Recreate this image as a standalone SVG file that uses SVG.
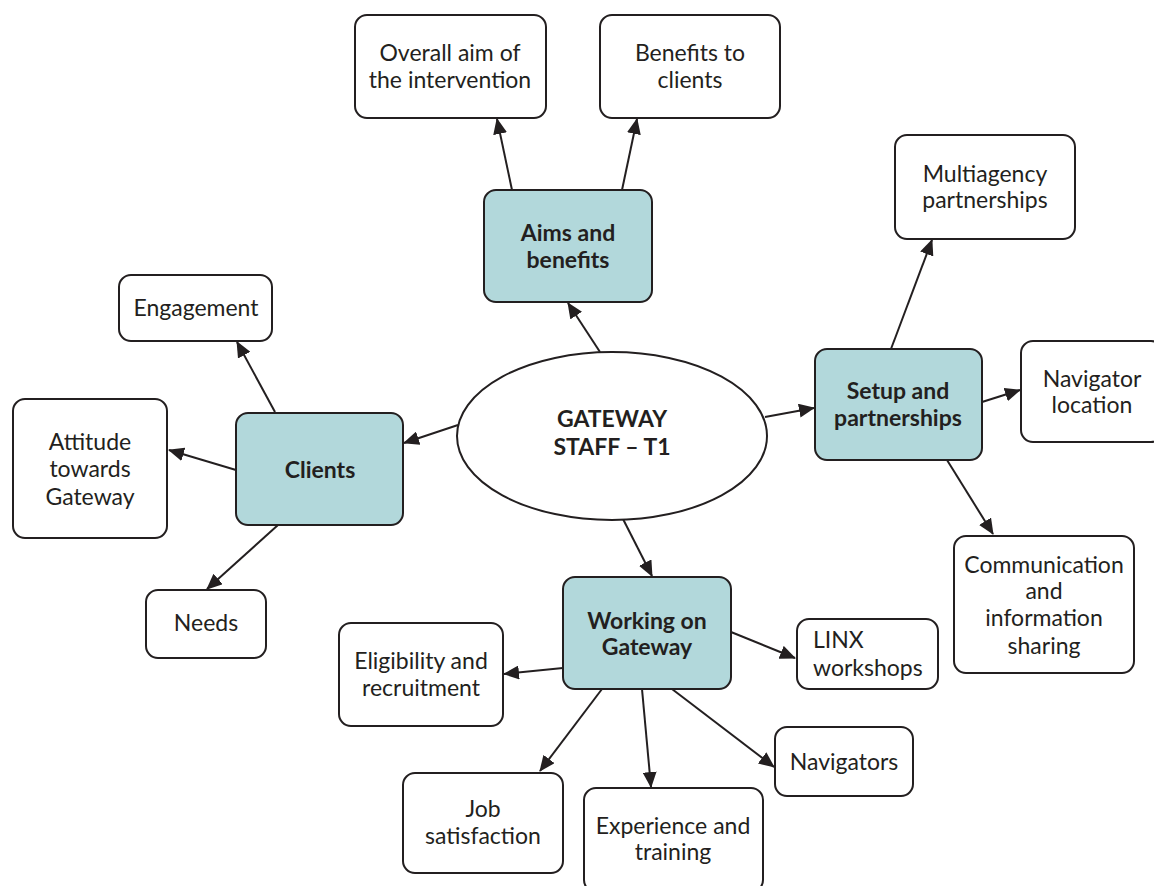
<svg xmlns="http://www.w3.org/2000/svg" width="1154" height="886" viewBox="0 0 1154 886">
  <style>
    .box { fill: #ffffff; stroke: #231f20; stroke-width: 2; }
    .hub { fill: #b2d8db; stroke: #231f20; stroke-width: 2; }
    .core { fill: #ffffff; stroke: #231f20; stroke-width: 2; }
    text { font-family: Lato, "Open Sans", "Liberation Sans", sans-serif; font-size: 23px; fill: #231f20; text-anchor: middle; }
    .b { font-weight: 700; }
    .l { text-anchor: start; }
    .edge { stroke: #231f20; stroke-width: 2; fill: none; marker-end: url(#arrow); }
  </style>
  <defs>
    <marker id="arrow" markerUnits="userSpaceOnUse" markerWidth="16" markerHeight="14" refX="15" refY="7" orient="auto">
      <path d="M0,0 L16,7 L0,14 z" fill="#231f20"/>
    </marker>
  </defs>
  <rect width="1154" height="886" fill="#ffffff"/>

  <g id="connectors">
    <line class="edge" x1="512" y1="190" x2="497" y2="119"/>
    <line class="edge" x1="622" y1="190" x2="637" y2="119"/>
    <line class="edge" x1="600" y1="352" x2="568" y2="303"/>
    <line class="edge" x1="458" y1="425" x2="404" y2="443"/>
    <line class="edge" x1="765" y1="417" x2="814" y2="408"/>
    <line class="edge" x1="623" y1="519" x2="652" y2="576"/>
    <line class="edge" x1="275" y1="412" x2="237" y2="342"/>
    <line class="edge" x1="236" y1="470" x2="169" y2="450"/>
    <line class="edge" x1="278" y1="525" x2="207" y2="589"/>
    <line class="edge" x1="891" y1="349" x2="932" y2="240"/>
    <line class="edge" x1="982" y1="402" x2="1020" y2="390"/>
    <line class="edge" x1="947" y1="460" x2="993" y2="534"/>
    <line class="edge" x1="563" y1="668" x2="504" y2="674"/>
    <line class="edge" x1="731" y1="632" x2="795" y2="658"/>
    <line class="edge" x1="672" y1="689" x2="774" y2="767"/>
    <line class="edge" x1="602" y1="689" x2="540" y2="771"/>
    <line class="edge" x1="642" y1="689" x2="651" y2="787"/>
  </g>

  <g id="gateway-staff">
    <ellipse class="core" cx="612" cy="436" rx="155" ry="84"/>
    <text class="b" x="612" y="427">GATEWAY</text>
    <text class="b" x="612" y="455">STAFF – T1</text>
  </g>

  <g id="aims-and-benefits">
    <rect class="hub" x="484" y="190" width="168" height="112" rx="12"/>
    <text class="b" x="568" y="241">Aims and</text>
    <text class="b" x="568" y="268">benefits</text>
  </g>
  <g id="overall-aim">
    <rect class="box" x="355" y="15" width="191" height="103" rx="12"/>
    <text x="450" y="61">Overall aim of</text>
    <text x="450" y="88">the intervention</text>
  </g>
  <g id="benefits-to-clients">
    <rect class="box" x="600" y="15" width="180" height="103" rx="12"/>
    <text x="690" y="61">Benefits to</text>
    <text x="690" y="88">clients</text>
  </g>

  <g id="clients">
    <rect class="hub" x="236" y="413" width="167" height="112" rx="12"/>
    <text class="b" x="320" y="478">Clients</text>
  </g>
  <g id="engagement">
    <rect class="box" x="119" y="275" width="153" height="66" rx="12"/>
    <text x="196" y="316">Engagement</text>
  </g>
  <g id="attitude">
    <rect class="box" x="13" y="399" width="154" height="139" rx="12"/>
    <text x="90" y="450">Attitude</text>
    <text x="90" y="477">towards</text>
    <text x="90" y="505">Gateway</text>
  </g>
  <g id="needs">
    <rect class="box" x="146" y="590" width="120" height="68" rx="12"/>
    <text x="206" y="631">Needs</text>
  </g>

  <g id="setup-and-partnerships">
    <rect class="hub" x="815" y="349" width="167" height="111" rx="12"/>
    <text class="b" x="898" y="399">Setup and</text>
    <text class="b" x="898" y="426">partnerships</text>
  </g>
  <g id="multiagency">
    <rect class="box" x="895" y="135" width="180" height="104" rx="12"/>
    <text x="985" y="182">Multiagency</text>
    <text x="985" y="208">partnerships</text>
  </g>
  <g id="navigator-location">
    <rect class="box" x="1021" y="341" width="142" height="101" rx="12"/>
    <text x="1092" y="387">Navigator</text>
    <text x="1092" y="413">location</text>
  </g>
  <g id="communication">
    <rect class="box" x="954" y="536" width="180" height="137" rx="12"/>
    <text x="1044" y="573">Communication</text>
    <text x="1044" y="599">and</text>
    <text x="1044" y="626">information</text>
    <text x="1044" y="654">sharing</text>
  </g>

  <g id="working-on-gateway">
    <rect class="hub" x="563" y="577" width="168" height="112" rx="12"/>
    <text class="b" x="647" y="629">Working on</text>
    <text class="b" x="647" y="655">Gateway</text>
  </g>
  <g id="eligibility">
    <rect class="box" x="339" y="623" width="164" height="103" rx="12"/>
    <text x="421" y="669">Eligibility and</text>
    <text x="421" y="696">recruitment</text>
  </g>
  <g id="linx-workshops">
    <rect class="box" x="797" y="619" width="141" height="70" rx="12"/>
    <text class="l" x="813" y="648">LINX</text>
    <text class="l" x="813" y="676">workshops</text>
  </g>
  <g id="navigators">
    <rect class="box" x="775" y="727" width="138" height="69" rx="12"/>
    <text x="844" y="770">Navigators</text>
  </g>
  <g id="job-satisfaction">
    <rect class="box" x="403" y="773" width="160" height="100" rx="12"/>
    <text x="483" y="817">Job</text>
    <text x="483" y="844">satisfaction</text>
  </g>
  <g id="experience-and-training">
    <rect class="box" x="584" y="788" width="179" height="104" rx="12"/>
    <text x="673" y="834">Experience and</text>
    <text x="673" y="860">training</text>
  </g>
</svg>
